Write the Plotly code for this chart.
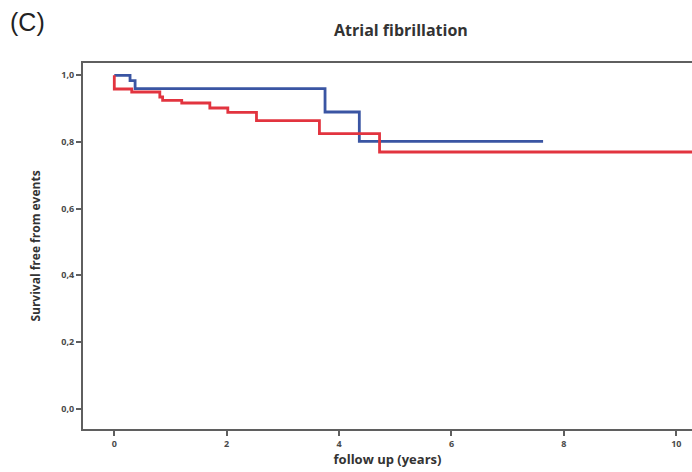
import plotly.graph_objects as go

# Kaplan-Meier step data
blue_time = [0, 0.28, 0.37, 3.75, 4.36, 7.63]
blue_surv = [1.0, 0.984, 0.960, 0.890, 0.802, 0.802]

red_time = [0, 0, 0.31, 0.81, 0.86, 1.2, 1.7, 2.02, 2.53, 3.65, 4.72, 10.6]
red_surv = [1.0, 0.959, 0.950, 0.935, 0.925, 0.917, 0.902, 0.889, 0.864, 0.825, 0.770, 0.770]

x_ticks = [0, 2, 4, 6, 8, 10]
y_ticks = [0.0, 0.2, 0.4, 0.6, 0.8, 1.0]
y_tick_labels = ["0,0", "0,2", "0,4", "0,6", "0,8", "1,0"]

axis_col = "#5f5f5f"

fig = go.Figure()
fig.add_trace(go.Scatter(x=blue_time, y=blue_surv, mode="lines",
                         line=dict(color="#3a55a3", width=2.8, shape="hv"),
                         showlegend=False))
fig.add_trace(go.Scatter(x=red_time, y=red_surv, mode="lines",
                         line=dict(color="#e2343f", width=2.8, shape="hv"),
                         showlegend=False))

W, H = 692, 472
ML, MR, MT, MB = 83, 0, 63, 43
plot_h = H - MT - MB
plot_w = W - ML - MR

fig.update_layout(
    width=W, height=H,
    margin=dict(l=ML, r=MR, t=MT, b=MB),
    paper_bgcolor="white", plot_bgcolor="white",
    xaxis=dict(range=[-0.557, 10.28], tickvals=x_ticks, ticktext=[str(v) for v in x_ticks],
               showgrid=False, zeroline=False, showline=True, linecolor=axis_col, linewidth=2,
               mirror=True, ticks="outside", ticklen=5, tickwidth=2, tickcolor=axis_col,
               tickfont=dict(family="Open Sans", size=9, color="#4a4a4a", weight="bold"),
               title=dict(text="<b>follow up (years)</b>", standoff=6,
                          font=dict(family="Open Sans", size=13, color="#333333"))),
    yaxis=dict(range=[-0.061, 1.037], tickvals=y_ticks, ticktext=y_tick_labels,
               showgrid=False, zeroline=False, showline=True, linecolor=axis_col, linewidth=2,
               ticks="outside", ticklen=5, tickwidth=1.5, tickcolor=axis_col,
               tickfont=dict(family="Open Sans", size=9, color="#4a4a4a", weight="bold"),
               title=dict(text="<b>Survival free from events</b>", standoff=18,
                          font=dict(family="Open Sans", size=12, color="#333333"))),
    annotations=[
        dict(text="<b>Atrial fibrillation</b>",
             x=(401 - ML) / plot_w, y=(H - MB - 30) / plot_h,
             xref="paper", yref="paper",
             showarrow=False, font=dict(family="Open Sans", size=16, color="#333333"),
             xanchor="center", yanchor="middle"),
        dict(text="(C)",
             x=(8 - ML) / plot_w, y=(H - MB - 22) / plot_h,
             xref="paper", yref="paper",
             showarrow=False, font=dict(family="Liberation Sans", size=25, color="#222222"),
             xanchor="left", yanchor="middle"),
    ],
)

fig.write_html("out.html", config={"displayModeBar": False},
               post_script="document.body.style.margin='0';")
